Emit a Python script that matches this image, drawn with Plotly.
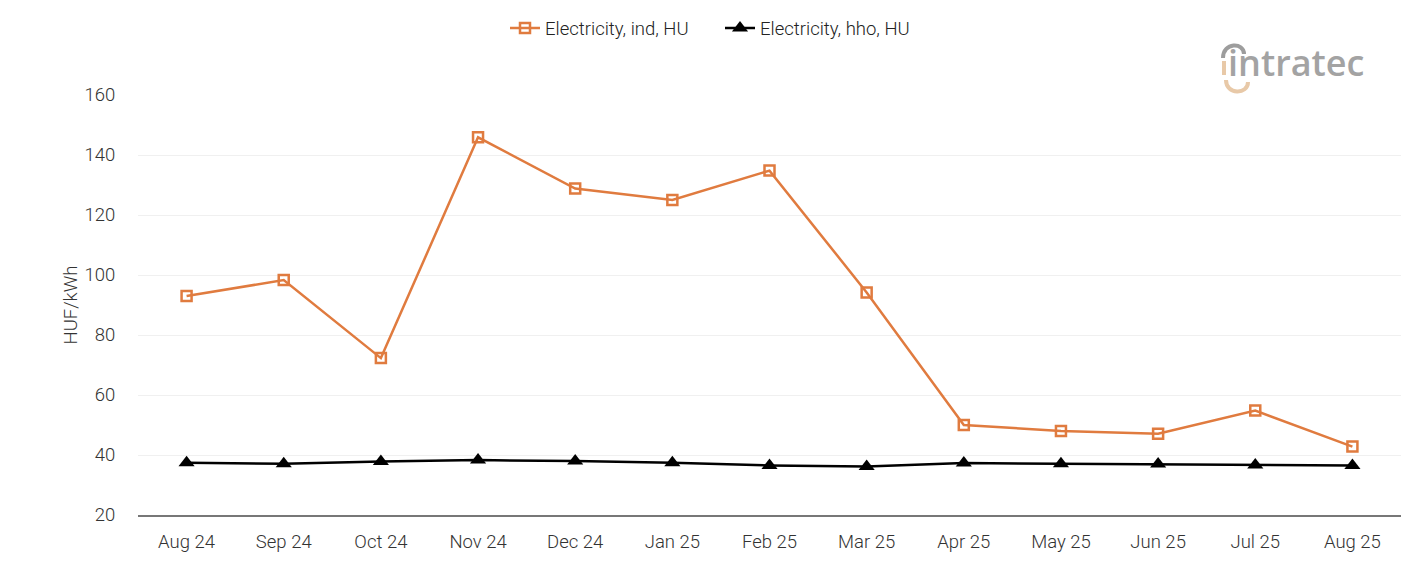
import plotly.graph_objects as go

months = ["Aug 24", "Sep 24", "Oct 24", "Nov 24", "Dec 24", "Jan 25", "Feb 25",
          "Mar 25", "Apr 25", "May 25", "Jun 25", "Jul 25", "Aug 25"]
elec_ind = [93.0, 98.3, 72.3, 145.9, 128.8, 125.0, 134.8, 94.2, 50.0, 48.0, 47.1, 54.8, 42.8]
elec_hho = [37.4, 37.1, 37.8, 38.3, 38.0, 37.4, 36.5, 36.2, 37.3, 37.1, 37.0, 36.7, 36.5]
yticks = [20, 40, 60, 80, 100, 120, 140, 160]

W, H = 1401, 561
L, R, T, B = 138, 0, 95, 46
PW, PH = W - L - R, H - T - B

def px(x, y):
    return (x - L) / PW, (H - B - y) / PH

fig = go.Figure()
fig.add_trace(go.Scatter(
    x=months, y=elec_ind, name="Electricity, ind, HU", mode="lines+markers",
    line=dict(color="#E07B3F", width=2.5),
    marker=dict(symbol="square-open", size=10, color="#E07B3F", line=dict(width=2.5)),
))
fig.add_trace(go.Scatter(
    x=months, y=elec_hho, name="Electricity, hho, HU", mode="lines+markers",
    line=dict(color="#000000", width=2.5),
    marker=dict(symbol="triangle-up", size=14, color="#000000"),
))

font = "Roboto, sans-serif"
tf = dict(family=font, size=18.5, color="#333333", weight=300)
fig.update_layout(
    width=W, height=H,
    margin=dict(l=L, r=R, t=T, b=B),
    paper_bgcolor="white", plot_bgcolor="white",
    font=tf,
    showlegend=True,
    legend=dict(orientation="h", x=505 / W, xanchor="left", y=0.983, yanchor="top",
                xref="container", yref="container",
                font=dict(family=font, size=18.5, color="#222222", weight=300),
                itemwidth=30, entrywidth=170, tracegroupgap=0),
    xaxis=dict(
        type="category", range=[-0.5, 12.5], showgrid=False,
        showline=True, linecolor="#777777", linewidth=1.5,
        ticks="outside", ticklen=9, tickcolor="rgba(0,0,0,0)",
        tickfont=tf,
    ),
    yaxis=dict(
        range=[20, 160], tickvals=yticks, showgrid=True, gridcolor="#f0f0f0", gridwidth=1,
        zeroline=False, showline=False,
        ticks="outside", ticklen=18, tickcolor="rgba(0,0,0,0)",
        tickfont=tf,
        title=dict(text="HUF/kWh", font=dict(family=font, size=18.5, color="#333333"), standoff=2),
    ),
)

# logo
lx, ly = px(1226, 62)
fig.add_annotation(text="intratec", x=lx, y=ly, xref="paper", yref="paper",
                   xanchor="left", yanchor="middle", showarrow=False,
                   font=dict(family="Open Sans, sans-serif", size=36, color="#a3a3a3", weight=600))

a0 = px(1223, 58); a1 = px(1223, 42); a2 = px(1244, 42); a3 = px(1244, 54)
fig.add_shape(type="path", xref="paper", yref="paper",
              path=f"M{a0[0]:.5f},{a0[1]:.5f} C{a1[0]:.5f},{a1[1]:.5f} {a2[0]:.5f},{a2[1]:.5f} {a3[0]:.5f},{a3[1]:.5f}",
              line=dict(color="#9d9d9d", width=4))
b0 = px(1224, 61); b1 = px(1224, 75)
fig.add_shape(type="line", xref="paper", yref="paper", x0=b0[0], y0=b0[1], x1=b1[0], y1=b1[1],
              line=dict(color="#e8c9a8", width=4))
c0 = px(1226, 80); c1 = px(1226, 95); c2 = px(1248, 95); c3 = px(1248, 82)
fig.add_shape(type="path", xref="paper", yref="paper",
              path=f"M{c0[0]:.5f},{c0[1]:.5f} C{c1[0]:.5f},{c1[1]:.5f} {c2[0]:.5f},{c2[1]:.5f} {c3[0]:.5f},{c3[1]:.5f}",
              line=dict(color="#e8c9a8", width=4))

fig.write_html("out.html", config={"displayModeBar": False},
               post_script="document.body.style.margin='0';document.body.style.overflow='hidden';")
